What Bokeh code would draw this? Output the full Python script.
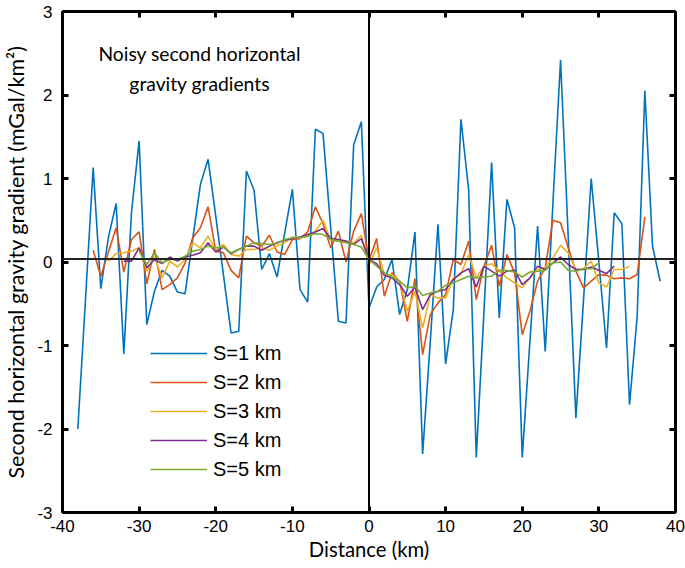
from bokeh.plotting import figure
from bokeh.models import Range1d, LinearAxis, FixedTicker, Span, Label, CustomJSTickFormatter
from bokeh.embed import file_html
from bokeh.resources import INLINE

# ---- data ----
x_s1 = list(range(-38, 39))
s1 = [-2.00, -0.45, 1.13, -0.32, 0.30, 0.70, -1.10, 0.59, 1.45, -0.75,
      -0.35, -0.10, -0.17, -0.36, -0.38, 0.28, 0.93, 1.23, 0.55, -0.15,
      -0.85, -0.83, 1.09, 0.86, -0.09, 0.10, -0.18, 0.35, 0.87, -0.33,
      -0.48, 1.59, 1.54, 0.41, -0.71, -0.73, 1.40, 1.68, -0.55, -0.30,
      -0.21, 0.03, -0.63, -0.33, 0.36, -2.30, -0.95, 0.45, -1.22, -0.57,
      1.71, 0.87, -2.34, -0.60, 1.19, -0.67, 0.75, 0.41, -2.34, -0.95,
      0.43, -1.07, 0.70, 2.42, 0.30, -1.87, -0.45, 1.00, 0.00, -1.03,
      0.59, 0.46, -1.71, -0.65, 2.05, 0.19, -0.23]

x_s2 = list(range(-36, 37))
s2 = [0.14, -0.17, 0.12, 0.41, -0.12, 0.27, 0.36, -0.26, 0.15, -0.33,
      -0.27, -0.19, -0.01, 0.29, 0.41, 0.66, 0.13, 0.11, -0.10, -0.19,
      0.31, 0.23, 0.19, 0.32, 0.12, 0.09, 0.27, 0.28, 0.36, 0.66,
      0.46, 0.17, 0.37, 0.00, 0.37, 0.58, 0.02, 0.28, -0.41, -0.13,
      -0.23, -0.71, -0.20, -1.11, -0.63, -0.49, -0.39, 0.03, -0.03, 0.25,
      -0.45, -0.05, 0.20, -0.29, 0.09, -0.13, -0.87, -0.59, -0.23, -0.07,
      0.50, 0.47, 0.17, -0.11, -0.31, -0.23, -0.15, -0.16, -0.20, -0.19,
      -0.20, -0.15, 0.54]

x_s3 = list(range(-34, 35))
s3 = [0.01, 0.10, 0.11, 0.13, 0.17, -0.11, 0.06, -0.19, 0.01, -0.06,
      0.03, 0.23, 0.17, 0.31, 0.14, 0.21, 0.09, 0.07, 0.15, 0.15,
      0.17, 0.14, 0.19, 0.23, 0.30, 0.29, 0.31, 0.37, 0.50, 0.26,
      0.25, 0.25, 0.23, 0.32, -0.04, 0.17, -0.15, -0.15, -0.23, -0.59,
      -0.35, -0.79, -0.39, -0.43, -0.43, -0.19, -0.15, 0.09, -0.19, -0.05,
      -0.02, -0.11, -0.19, -0.25, -0.31, -0.19, -0.09, -0.07, 0.05, 0.20,
      0.11, -0.09, -0.08, 0.01, -0.25, -0.30, -0.09, -0.09, -0.05]

x_s4 = list(range(-32, 33))
s4 = [0.01, 0.01, 0.17, -0.07, 0.03, -0.02, 0.06, 0.01, 0.06, 0.08,
      0.11, 0.23, 0.12, 0.18, 0.10, 0.15, 0.19, 0.19, 0.14, 0.19,
      0.23, 0.26, 0.28, 0.30, 0.33, 0.36, 0.40, 0.28, 0.27, 0.25,
      0.21, 0.28, 0.03, -0.02, -0.16, -0.19, -0.27, -0.41, -0.30, -0.57,
      -0.39, -0.35, -0.33, -0.21, -0.13, -0.08, -0.30, -0.05, -0.11, -0.17,
      -0.11, -0.10, -0.27, -0.19, -0.05, -0.09, -0.01, 0.06, -0.03, -0.09,
      -0.09, -0.06, -0.10, -0.14, -0.05]

x_s5 = list(range(-30, 31))
s5 = [0.13, -0.03, 0.11, -0.01, 0.03, 0.03, 0.07, 0.13, 0.15, 0.19,
      0.17, 0.18, 0.11, 0.15, 0.19, 0.23, 0.22, 0.21, 0.22, 0.27,
      0.29, 0.29, 0.31, 0.34, 0.33, 0.27, 0.25, 0.23, 0.21, 0.18,
      0.03, -0.05, -0.13, -0.18, -0.23, -0.31, -0.29, -0.40, -0.37, -0.35,
      -0.28, -0.25, -0.21, -0.17, -0.19, -0.18, -0.17, -0.10, -0.10, -0.12,
      -0.18, -0.12, -0.11, -0.10, -0.01, 0.00, -0.10, -0.11, -0.08, -0.08,
      -0.01]

series = [
    ("S=1 km", x_s1, s1, "#0072BD"),
    ("S=2 km", x_s2, s2, "#D95319"),
    ("S=3 km", x_s3, s3, "#EDB120"),
    ("S=4 km", x_s4, s4, "#7E2F8E"),
    ("S=5 km", x_s5, s5, "#77AC30"),
]

x_ticks = [-40, -30, -20, -10, 0, 10, 20, 30, 40]
y_ticks = [-3, -2, -1, 0, 1, 2, 3]

TICK_FONT = "Liberation Sans"
TITLE_FONT = "Lato"

p = figure(frame_width=613, frame_height=501,
           x_range=Range1d(-40, 40), y_range=Range1d(-3, 3),
           output_backend="svg", toolbar_location=None,
           min_border_left=54, min_border_right=10,
           min_border_top=11, min_border_bottom=50)
p.grid.visible = False
p.outline_line_color = None
p.background_fill_color = "white"
p.border_fill_color = "white"

for name, xs, ys, col in series:
    p.line(xs, ys, line_color=col, line_width=1.6, legend_label=name)

plain = CustomJSTickFormatter(code="return tick.toString();")
blank = CustomJSTickFormatter(code="return '';")


def style_axis(ax, show_labels):
    ax.axis_line_width = 3
    ax.axis_line_color = "black"
    ax.major_tick_line_width = 3
    ax.major_tick_line_color = "black"
    ax.major_tick_in = 6
    ax.major_tick_out = 0
    ax.minor_tick_line_color = None
    if show_labels:
        ax.formatter = plain
        ax.major_label_text_font = TICK_FONT
        ax.major_label_text_font_size = "17px"
        ax.major_label_text_color = "black"
        ax.axis_label_text_font = TITLE_FONT
        ax.axis_label_text_font_style = "normal"
        ax.axis_label_text_color = "black"
    else:
        ax.formatter = blank
        ax.major_label_standoff = 0
        ax.axis_label_standoff = 0


p.xaxis.ticker = FixedTicker(ticks=x_ticks)
p.yaxis.ticker = FixedTicker(ticks=y_ticks)
style_axis(p.xaxis[0], True)
style_axis(p.yaxis[0], True)
p.xaxis.axis_label = "Distance (km)"
p.xaxis.axis_label_text_font_size = "20.3px"
p.xaxis.major_label_standoff = 7
p.xaxis.axis_label_standoff = 2
p.yaxis.axis_label = "Second horizontal gravity gradient (mGal/km\u00b2)"
p.yaxis.axis_label_text_font_size = "21.5px"
p.yaxis.major_label_standoff = 10
p.yaxis.axis_label_standoff = 5

top_ax = LinearAxis(ticker=FixedTicker(ticks=x_ticks))
right_ax = LinearAxis(ticker=FixedTicker(ticks=y_ticks))
style_axis(top_ax, False)
style_axis(right_ax, False)
p.add_layout(top_ax, "above")
p.add_layout(right_ax, "right")

p.add_layout(Span(location=0, dimension="height", line_color="black", line_width=2))
p.add_layout(Span(location=0.035, dimension="width", line_color="#222222", line_width=2))

for txt, yy in [("Noisy second horizontal", 2.5), ("gravity gradients", 2.14)]:
    p.add_layout(Label(x=-22.1, y=yy, text=txt, text_align="center",
                       text_baseline="middle", text_font=TITLE_FONT,
                       text_font_size="19.3px", text_color="black"))

lg = p.legend[0]
lg.location = (78, 21)
lg.border_line_alpha = 0
lg.background_fill_alpha = 0
lg.padding = 10
lg.margin = 0
lg.spacing = 5
lg.glyph_width = 57
lg.glyph_height = 24
lg.label_height = 24
lg.label_standoff = 6
lg.label_text_font = TICK_FONT
lg.label_text_font_size = "20px"
lg.label_text_color = "black"

open("out.html", "w").write(file_html(p, INLINE))
